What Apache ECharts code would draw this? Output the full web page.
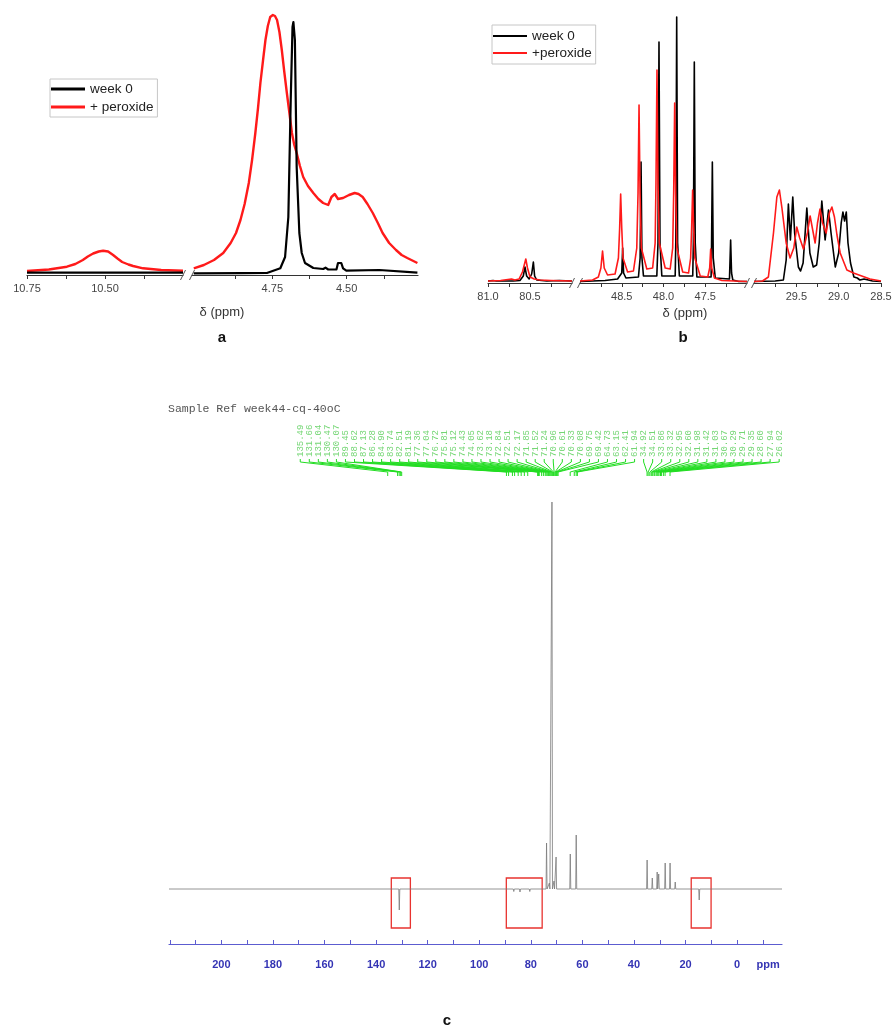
<!DOCTYPE html>
<html>
<head>
<meta charset="utf-8">
<script src="https://cdn.jsdelivr.net/npm/echarts@6/dist/echarts.min.js"></script>
<style>
  html, body { margin: 0; padding: 0; background: #fff; }
  #chart { width: 895px; height: 1030px; }
</style>
</head>
<body>
<div id="chart"></div>
<script>
// ---------- Panel a: 1H spectrum, two windows of the shift axis ----------
const aLowRange = [10.25, 10.75];
const aHighRange = [4.26, 5.02];
const aTicksLow = [10.75, 10.625, 10.5, 10.375];
const aLabelsLow = [10.75, 10.5];
const aTicksHigh = [4.875, 4.75, 4.625, 4.5, 4.375];
const aLabelsHigh = [4.75, 4.5];

// [ppm, intensity]
const aWeek0Low = [[10.75, 2.3], [10.5, 2.3], [10.25, 2.3]];
const aPeroxLow = [
  [10.75, 4], [10.68, 5.5], [10.622, 8.3], [10.595, 11], [10.571, 15], [10.555, 18.5],
  [10.538, 21.5], [10.52, 23.5], [10.506, 24.3], [10.49, 23.5], [10.474, 20], [10.46, 16.5],
  [10.445, 13], [10.425, 10.5], [10.41, 9], [10.378, 6.7], [10.32, 5], [10.25, 4.3]
];
const aWeek0High = [
  [5.014, 1.7], [4.85, 1.8], [4.768, 2], [4.723, 6.7], [4.707, 18], [4.696, 58],
  [4.688, 175], [4.682, 248], [4.679, 253], [4.674, 235], [4.668, 108], [4.659, 42],
  [4.651, 22], [4.64, 12], [4.612, 7], [4.579, 6], [4.571, 7.3], [4.562, 5.5],
  [4.534, 5.7], [4.529, 12], [4.518, 12], [4.512, 6.7], [4.501, 4.3], [4.39, 5],
  [4.262, 2.3]
];
const aPeroxHigh = [
  [5.014, 6.7], [4.98, 10], [4.946, 15], [4.915, 22], [4.89, 32], [4.872, 42], [4.857, 55],
  [4.843, 71], [4.829, 92], [4.818, 115], [4.807, 142], [4.798, 167], [4.79, 192],
  [4.781, 215], [4.773, 235], [4.765, 249], [4.757, 258], [4.748, 260], [4.741, 259],
  [4.734, 255], [4.726, 243], [4.718, 225], [4.71, 204], [4.701, 182], [4.692, 161],
  [4.684, 142], [4.676, 130], [4.668, 122], [4.657, 109], [4.646, 98], [4.63, 89],
  [4.612, 82], [4.595, 76], [4.579, 72], [4.562, 70], [4.551, 78], [4.54, 81], [4.529, 76],
  [4.512, 77], [4.492, 80], [4.473, 82], [4.46, 81], [4.446, 78], [4.43, 71], [4.412, 62],
  [4.395, 52], [4.379, 42], [4.357, 32], [4.334, 25], [4.315, 20], [4.296, 17], [4.262, 12]
];

// ---------- Panel b: 13C multiplets, three windows ----------
const bRange80 = [80.0, 81.0];
const bRange48 = [47.0, 49.0];
const bRange29 = [28.5, 30.0];
const bTicks80 = [81.0, 80.75, 80.5, 80.25];
const bLabels80 = [81.0, 80.5];
const bTicks48 = [48.75, 48.5, 48.25, 48.0, 47.75, 47.5, 47.25];
const bLabels48 = [48.5, 48.0, 47.5];
const bTicks29 = [29.75, 29.5, 29.25, 29.0, 28.75, 28.5];
const bLabels29 = [29.5, 29.0, 28.5];

const bWeek0_80 = [
  [81.0, 2], [80.94, 2.5], [80.92, 4.5], [80.9, 2], [80.7, 2], [80.62, 2.5], [80.58, 7],
  [80.56, 16], [80.54, 7], [80.51, 4], [80.48, 9], [80.46, 21], [80.445, 7], [80.42, 3],
  [80.3, 2], [80.15, 2.5], [80.0, 2]
];
const bPerox_80 = [
  [81.0, 2], [80.85, 2.5], [80.72, 4], [80.7, 6], [80.68, 3], [80.63, 4], [80.59, 11],
  [80.55, 24], [80.53, 15], [80.5, 6], [80.45, 4], [80.38, 3], [80.25, 2.5], [80.0, 2]
];
const bWeek0_48 = [
  [49.0, 1.5], [48.7, 2.5], [48.55, 4], [48.5, 10], [48.489, 35], [48.478, 10], [48.45, 5],
  [48.3, 6], [48.28, 25], [48.269, 121], [48.258, 25], [48.24, 7],
  [48.08, 7], [48.066, 40], [48.054, 241], [48.042, 40], [48.02, 7],
  [47.86, 7], [47.853, 40], [47.842, 266], [47.831, 40], [47.81, 7],
  [47.65, 7], [47.642, 40], [47.631, 221], [47.62, 40], [47.6, 6],
  [47.43, 6], [47.426, 25], [47.415, 121], [47.404, 25], [47.38, 5],
  [47.21, 4], [47.207, 12], [47.196, 43], [47.185, 10], [47.17, 3], [47.1, 1.5], [47.0, 1.5]
];
const bPerox_48 = [
  [49.0, 2], [48.85, 3], [48.78, 6], [48.75, 15], [48.73, 32], [48.71, 15], [48.67, 8],
  [48.58, 9], [48.54, 25], [48.525, 55], [48.513, 89], [48.5, 55], [48.485, 25], [48.43, 11],
  [48.36, 12], [48.32, 35], [48.305, 90], [48.293, 178], [48.281, 90], [48.265, 35], [48.2, 14],
  [48.13, 15], [48.1, 40], [48.09, 100], [48.078, 213], [48.066, 100], [48.05, 40], [47.98, 15],
  [47.92, 14], [47.89, 35], [47.878, 90], [47.866, 180], [47.854, 90], [47.84, 35], [47.77, 11],
  [47.7, 10], [47.675, 25], [47.663, 55], [47.651, 93], [47.639, 55], [47.625, 25], [47.56, 7],
  [47.47, 6], [47.447, 15], [47.435, 34], [47.423, 15], [47.39, 5], [47.3, 2.5], [47.0, 1.5]
];
const bWeek0_29 = [
  [30.0, 1.5], [29.75, 2], [29.653, 3], [29.62, 23], [29.594, 79], [29.57, 43], [29.542, 86],
  [29.52, 50], [29.476, 16], [29.45, 12], [29.42, 20], [29.376, 75], [29.34, 30], [29.3, 16],
  [29.26, 18], [29.23, 40], [29.199, 82], [29.16, 43], [29.12, 73], [29.09, 50], [29.04, 16],
  [29.0, 30], [28.97, 60], [28.95, 71], [28.93, 62], [28.91, 71], [28.89, 40], [28.86, 20],
  [28.82, 6], [28.78, 5], [28.75, 3], [28.7, 4], [28.6, 2], [28.5, 1.5]
];
const bPerox_29 = [
  [30.0, 1.5], [29.9, 2], [29.83, 6], [29.77, 50], [29.73, 86], [29.7, 93], [29.67, 75],
  [29.62, 40], [29.574, 25], [29.53, 35], [29.495, 56], [29.46, 45], [29.416, 34], [29.37, 50],
  [29.337, 67], [29.3, 50], [29.278, 40], [29.25, 60], [29.22, 74], [29.19, 60], [29.148, 50],
  [29.11, 70], [29.08, 76], [29.05, 66], [29.02, 48], [28.982, 30], [28.903, 13], [28.825, 10],
  [28.63, 4], [28.5, 2]
];

// ---------- Panel c: full 13C spectrum ----------
const cRange = [-17.4, 220.3];
const cMajorTicks = [200, 180, 160, 140, 120, 100, 80, 60, 40, 20, 0];
const cAllTicks = [220, 210, 200, 190, 180, 170, 160, 150, 140, 130, 120, 110, 100, 90, 80, 70, 60, 50, 40, 30, 20, 10, 0, -10];
const cUnitAt = -12; // where the "ppm" unit sits on the scale
// [ppm, intensity]
const cPeaks = [
  [131.0, -21], [86.6, -2.5], [84.2, -3], [82.9, -2], [80.4, -2.5],
  [73.9, 46], [72.8, 6], [71.8, 387], [71.0, 8], [70.2, 32],
  [64.7, 35], [62.4, 54],
  [34.9, 29], [32.9, 11], [31.0, 17], [30.4, 15], [27.9, 26], [26.0, 26], [24.0, 7],
  [14.7, -11]
];
// peak-pick labels, listed left to right
const cPeakLabels = [
  135.49, 131.66, 131.04, 130.47, 130.07,
  89.45, 88.62, 87.13, 86.28, 84.90, 83.74, 82.51, 81.19,
  77.36, 77.04, 76.72, 75.81, 75.12, 74.43, 74.05, 73.62, 73.18, 72.84, 72.51, 72.17,
  71.85, 71.52, 71.24, 70.96, 70.61, 70.33, 70.08, 69.75, 69.42,
  64.73, 63.15, 62.41, 61.94,
  34.92, 34.51, 33.86, 33.32, 32.95, 32.60, 31.98, 31.42, 31.03, 30.67, 30.29, 29.71,
  29.35, 28.60, 27.94, 26.02
];
const cLabelSpan = [169.4, -16.3];
// highlighted regions: [ppm high, ppm low, intensity top, intensity bottom]
const cBoxes = [[134.1, 126.7, 11, -39], [89.5, 75.6, 11, -39], [17.8, 10.1, 11, -39]];

// trace of the full spectrum: flat baseline with a narrow line at every peak
const cTrace = [[cRange[1], 0]];
cPeaks.slice().sort((p, q) => q[0] - p[0]).forEach(([ppm, h]) => {
  cTrace.push([ppm + 0.2, 0], [ppm, h], [ppm - 0.2, 0]);
});
cTrace.push([cRange[0], 0]);

const FONT = '"Liberation Sans", Arial, sans-serif';
const chart = echarts.init(document.getElementById('chart'), null, { renderer: 'canvas' });

function segAxis(gridIndex, range, ticks, labels, digits) {
  return {
    gridIndex, type: 'value', inverse: true, min: range[0], max: range[1],
    axisLine: { show: true, onZero: false, lineStyle: { color: '#333', width: 1.2 } },
    axisTick: { show: true, length: 4, customValues: ticks, lineStyle: { color: '#333', width: 1 } },
    axisLabel: { customValues: labels, formatter: v => v.toFixed(digits), color: '#444', fontSize: 11, fontFamily: FONT, margin: 8 },
    splitLine: { show: false }
  };
}
function hiddenY(gridIndex, min, max) {
  return { gridIndex, type: 'value', min, max, show: false };
}
function trace(name, gridIndex, data, color, width) {
  return {
    name, type: 'line', xAxisIndex: gridIndex, yAxisIndex: gridIndex, data,
    symbol: 'none', smooth: false, lineStyle: { color, width, join: 'round' },
    itemStyle: { color }, silent: true, animation: false
  };
}
function breakMark(gridIndex, edges) {
  return {
    type: 'custom', xAxisIndex: gridIndex, yAxisIndex: gridIndex, silent: true, clip: false,
    data: edges.map(e => [e, 0]),
    renderItem(params, api) {
      const p = api.coord([api.value(0), 0]);
      const y = params.coordSys.y + params.coordSys.height;
      return { type: 'line', shape: { x1: p[0] - 2.5, y1: y + 5, x2: p[0] + 2.5, y2: y - 5 },
               style: { stroke: '#555', lineWidth: 1 } };
    }
  };
}
function legendBox(names, left, top, lineH, gap, padding) {
  return {
    data: names.map(n => ({ name: n, icon: 'rect' })),
    orient: 'vertical', left, top,
    itemWidth: 34, itemHeight: lineH, itemGap: gap, padding,
    borderColor: '#c6c6c6', borderWidth: 1, selectedMode: false,
    textStyle: { fontSize: 13.5, lineHeight: 14, color: '#222', fontFamily: FONT }
  };
}

const option = {
  animation: false,
  backgroundColor: '#fff',
  grid: [
    { left: 27, width: 156, top: 5, height: 270 },
    { left: 192, width: 226, top: 5, height: 270 },
    { left: 488, width: 84, top: 13, height: 270 },
    { left: 580, width: 167, top: 13, height: 270 },
    { left: 754, width: 127, top: 13, height: 270 },
    { left: 169, width: 613, top: 490, height: 440 }
  ],
  xAxis: [
    segAxis(0, aLowRange, aTicksLow, aLabelsLow, 2),
    segAxis(1, aHighRange, aTicksHigh, aLabelsHigh, 2),
    segAxis(2, bRange80, bTicks80, bLabels80, 1),
    segAxis(3, bRange48, bTicks48, bLabels48, 1),
    segAxis(4, bRange29, bTicks29, bLabels29, 1),
    {
      gridIndex: 5, type: 'value', inverse: true, min: cRange[0], max: cRange[1], offset: 14,
      axisLine: { show: true, onZero: false, lineStyle: { color: '#5c5cd0', width: 1.2 } },
      axisTick: { show: true, inside: true, length: 4, customValues: cAllTicks, lineStyle: { color: '#5c5cd0' } },
      axisLabel: {
        customValues: cMajorTicks.concat([cUnitAt]),
        formatter: v => (v === cUnitAt ? 'ppm' : String(v)),
        color: '#3434b4', fontWeight: 'bold', fontSize: 11, fontFamily: FONT, margin: 15
      },
      splitLine: { show: false }
    }
  ],
  yAxis: [
    hiddenY(0, 0, 270), hiddenY(1, 0, 270),
    hiddenY(2, 0, 270), hiddenY(3, 0, 270), hiddenY(4, 0, 270),
    hiddenY(5, -41, 399)
  ],
  legend: [
    legendBox(['week 0', '+ peroxide'], 50, 79, 3, 4, [3, 4, 3, 1]),
    legendBox(['week 0', '+peroxide'], 492, 25, 2, 3, [4, 4, 4, 1])
  ],
  graphic: [
    { type: 'text', x: 222, y: 312, style: { text: 'δ (ppm)', font: '13px ' + FONT, fill: '#333', align: 'center', verticalAlign: 'middle' } },
    { type: 'text', x: 685, y: 313, style: { text: 'δ (ppm)', font: '13px ' + FONT, fill: '#333', align: 'center', verticalAlign: 'middle' } },
    { type: 'text', x: 222, y: 338, style: { text: 'a', font: 'bold 15px ' + FONT, fill: '#111', align: 'center', verticalAlign: 'middle' } },
    { type: 'text', x: 683, y: 338, style: { text: 'b', font: 'bold 15px ' + FONT, fill: '#111', align: 'center', verticalAlign: 'middle' } },
    { type: 'text', x: 447, y: 1021, style: { text: 'c', font: 'bold 15px ' + FONT, fill: '#111', align: 'center', verticalAlign: 'middle' } },
    { type: 'text', x: 168, y: 409, style: { text: 'Sample Ref week44-cq-40oC', font: '11.5px "Liberation Mono", "DejaVu Sans Mono", monospace', fill: '#555', align: 'left', verticalAlign: 'middle' } }
  ],
  series: [
    // panel a
    trace('+ peroxide', 0, aPeroxLow, '#ff1a1a', 2.4),
    trace('week 0', 0, aWeek0Low, '#000', 2.2),
    trace('+ peroxide', 1, aPeroxHigh, '#ff1a1a', 2.4),
    trace('week 0', 1, aWeek0High, '#000', 2.2),
    breakMark(0, [aLowRange[0]]),
    breakMark(1, [aHighRange[1]]),
    // panel b
    trace('week 0', 2, bWeek0_80, '#000', 1.6),
    trace('+peroxide', 2, bPerox_80, '#ff1a1a', 1.6),
    trace('week 0', 3, bWeek0_48, '#000', 1.6),
    trace('+peroxide', 3, bPerox_48, '#ff1a1a', 1.6),
    trace('week 0', 4, bWeek0_29, '#000', 1.6),
    trace('+peroxide', 4, bPerox_29, '#ff1a1a', 1.6),
    breakMark(2, [bRange80[0]]),
    breakMark(3, [bRange48[1], bRange48[0]]),
    breakMark(4, [bRange29[1]]),
    // panel c
    {
      type: 'line', xAxisIndex: 5, yAxisIndex: 5, data: cTrace, symbol: 'none',
      lineStyle: { color: '#7a7a7a', width: 0.8 }, silent: true, animation: false
    },
    {
      type: 'custom', xAxisIndex: 5, yAxisIndex: 5, silent: true, clip: false,
      data: cBoxes,
      renderItem(params, api) {
        const a = api.coord([api.value(0), api.value(2)]);
        const b = api.coord([api.value(1), api.value(3)]);
        return {
          type: 'rect',
          shape: { x: Math.min(a[0], b[0]), y: Math.min(a[1], b[1]), width: Math.abs(b[0] - a[0]), height: Math.abs(b[1] - a[1]) },
          style: { stroke: '#e8332f', lineWidth: 1.3, fill: null }
        };
      }
    },
    {
      type: 'custom', xAxisIndex: 5, yAxisIndex: 5, silent: true, clip: false,
      data: cPeakLabels.map((v, i) => [v, i]),
      renderItem(params, api) {
        const v = api.value(0), i = api.value(1);
        const top = params.coordSys.y;
        const xa = api.coord([cLabelSpan[0], 0])[0];
        const xb = api.coord([cLabelSpan[1], 0])[0];
        const lx = xa + (xb - xa) * i / (cPeakLabels.length - 1);
        const px = api.coord([v, 0])[0];
        return {
          type: 'group',
          children: [
            { type: 'text', x: lx, y: top - 33, rotation: Math.PI / 2,
              style: { text: v.toFixed(2), fill: '#74d674', font: '9px "Liberation Mono", monospace', align: 'left', verticalAlign: 'middle' } },
            { type: 'polyline',
              shape: { points: [[lx, top - 31], [lx, top - 28], [px, top - 18], [px, top - 14]] },
              style: { stroke: '#22dd22', lineWidth: 1, fill: null } }
          ]
        };
      }
    }
  ]
};
chart.setOption(option);
</script>
</body>
</html>
